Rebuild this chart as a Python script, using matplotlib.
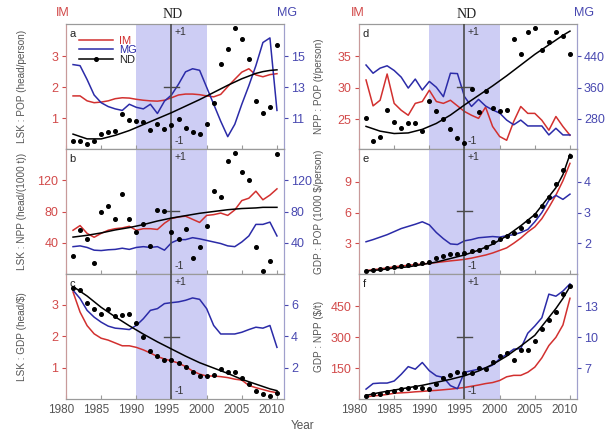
import numpy as np
import matplotlib
matplotlib.use("Agg")
import matplotlib.pyplot as plt
import matplotlib.transforms as mtrans
from matplotlib.lines import Line2D

plt.rcParams['font.family'] = ['Liberation Sans', 'DejaVu Sans']

years = np.arange(1981, 2011)
fit_years = [1981, 1983, 1985, 1987, 1989, 1991, 1993, 1995, 1997, 1999,
             2001, 2003, 2005, 2007, 2008, 2009, 2010]

# ---- a: LSK : POP ----
a_im = [1.72, 1.72, 1.56, 1.50, 1.52, 1.56, 1.63, 1.66, 1.65, 1.61,
        1.58, 1.56, 1.55, 1.58, 1.66, 1.75, 1.78, 1.78, 1.76, 1.72,
        1.69, 1.77, 2.02, 2.26, 2.49, 2.60, 2.40, 2.34, 2.41, 2.44]
a_mg = [14.47, 14.4, 13.5, 12.5, 12.0, 11.75, 11.6, 11.5, 11.9, 11.7,
        11.6, 11.9, 11.3, 12.1, 12.5, 13.2, 14.0, 14.2, 14.1, 13.0,
        11.9, 10.8, 9.8, 10.6, 11.9, 13.1, 14.4, 15.9, 16.2, 11.5]
a_nd = [-0.92, -0.92, -0.97, -0.92, -0.80, -0.77, -0.75, -0.47, -0.56, -0.58,
        -0.60, -0.73, -0.63, -0.71, -0.65, -0.55, -0.70, -0.76, -0.79, -0.63,
        -0.27, 0.38, 0.63, 0.99, 0.80, 0.47, -0.25, -0.44, -0.34, 0.70]
a_fit = [-0.80, -0.88, -0.88, -0.82, -0.74, -0.64, -0.54, -0.44, -0.33, -0.22,
         -0.10, 0.02, 0.13, 0.22, 0.25, 0.27, 0.28]

# ---- b: LSK : NPP ----
b_im = [56, 62, 52, 47, 52, 56, 58, 59, 61, 56,
        58, 58, 57, 65, 71, 73, 74, 70, 66, 75,
        76, 78, 75, 82, 94, 97, 106, 95, 101, 109]
b_mg = [35, 36, 34, 30.5, 30, 31, 31.5, 33, 31.5, 34,
        35, 34, 35, 30.5, 40, 44, 44, 46.5, 45, 43,
        41, 39, 36, 35, 41, 48.7, 63.5, 63.5, 66.4, 48.7]
b_nd = [-0.75, -0.31, -0.46, -0.86, -0.01, 0.10, -0.12, 0.30, -0.13, -0.35,
        -0.21, -0.58, 0.02, 0.00, -0.35, -0.46, -0.30, -0.78, -0.59, -0.25,
        0.35, 0.24, 0.84, 0.98, 0.67, 0.53, -0.59, -1.00, -0.83, 0.96]
b_fit = [-0.43, -0.40, -0.36, -0.31, -0.27, -0.22, -0.16, -0.11, -0.07, -0.03,
         0.00, 0.03, 0.05, 0.06, 0.07, 0.07, 0.07]

# ---- c: LSK : GDP ----
c_im = [3.40, 2.76, 2.33, 2.07, 1.93, 1.87, 1.78, 1.69, 1.69, 1.64,
        1.56, 1.46, 1.35, 1.27, 1.21, 1.14, 1.03, 0.89, 0.79, 0.73,
        0.73, 0.71, 0.68, 0.63, 0.60, 0.43, 0.36, 0.30, 0.24, 0.20]
c_mg = [6.91, 6.38, 5.63, 5.20, 4.88, 4.63, 4.50, 4.46, 4.41, 4.67,
        5.10, 5.63, 5.74, 6.06, 6.12, 6.17, 6.27, 6.42, 6.33, 5.74,
        4.67, 4.13, 4.13, 4.13, 4.24, 4.41, 4.56, 4.50, 4.67, 3.28]
c_nd = [0.81, 0.78, 0.57, 0.46, 0.38, 0.46, 0.35, 0.36, 0.38, 0.22,
        0.00, -0.24, -0.33, -0.40, -0.40, -0.44, -0.52, -0.60, -0.67, -0.67,
        -0.64, -0.55, -0.59, -0.59, -0.69, -0.80, -0.92, -0.97, -1.00, -0.95]
c_fit = [0.84, 0.68, 0.49, 0.33, 0.18, 0.04, -0.09, -0.21, -0.33, -0.44,
         -0.53, -0.62, -0.72, -0.80, -0.84, -0.88, -0.91]

# ---- d: NPP : POP ----
d_im = [31.25, 27.1, 28.0, 32.2, 27.5, 26.4, 25.6, 27.5, 27.8, 29.6,
        27.8, 27.5, 28.0, 27.1, 26.2, 25.6, 25.1, 26.9, 23.8, 22.2,
        21.6, 24.6, 27.0, 25.9, 25.9, 24.8, 23.2, 25.4, 23.8, 22.4]
d_mg = [418, 397, 410, 416, 404, 387, 359, 382, 354, 376,
        361, 337, 397, 396, 337, 312, 330, 313, 303, 295,
        277, 265, 277, 262, 262, 262, 239, 256, 239, 239]
d_nd = [-0.53, -0.92, -0.85, -0.40, -0.60, -0.70, -0.62, -0.62, -0.75, -0.24,
        -0.42, -0.55, -0.72, -0.86, -0.95, -0.05, -0.43, -0.07, -0.36, -0.42,
        -0.40, 0.80, 0.54, 0.91, 0.99, 0.61, 0.74, 0.91, 0.85, 0.54]
d_fit = [-0.67, -0.75, -0.79, -0.78, -0.72, -0.62, -0.48, -0.31, -0.15, 0.01,
         0.18, 0.36, 0.54, 0.70, 0.78, 0.86, 0.93]

# ---- e: GDP : POP ----
e_im = [0.33, 0.42, 0.50, 0.60, 0.70, 0.78, 0.85, 0.92, 0.98, 1.05,
        1.12, 1.20, 1.28, 1.35, 1.43, 1.55, 1.70, 1.85, 2.05, 2.30,
        2.55, 3.00, 3.50, 4.10, 4.60, 5.40, 6.50, 7.70, 9.10, 10.8]
e_mg = [2.05, 2.12, 2.20, 2.28, 2.38, 2.48, 2.55, 2.62, 2.70, 2.60,
        2.35, 2.15, 1.98, 1.96, 2.08, 2.12, 2.18, 2.20, 2.22, 2.20,
        2.25, 2.28, 2.35, 2.45, 2.70, 3.00, 3.40, 3.56, 3.43, 3.60]
e_nd = [-1.00, -0.98, -0.97, -0.95, -0.94, -0.92, -0.90, -0.88, -0.87, -0.85,
        -0.78, -0.74, -0.72, -0.71, -0.69, -0.67, -0.64, -0.59, -0.52, -0.46,
        -0.42, -0.36, -0.28, -0.16, -0.06, 0.10, 0.25, 0.46, 0.70, 0.94]
e_fit = [-1.00, -0.98, -0.95, -0.93, -0.89, -0.85, -0.79, -0.73, -0.65, -0.55,
         -0.41, -0.24, -0.05, 0.25, 0.40, 0.62, 0.96]

# ---- f: GDP : NPP ----
f_im = [10, 15, 18, 22, 28, 30, 32, 35, 37, 40,
        42, 45, 48, 52, 56, 62, 68, 75, 80, 90,
        108, 115, 115, 130, 155, 200, 260, 300, 360, 490]
f_mg = [4.96, 5.50, 5.55, 5.55, 5.75, 6.40, 7.15, 6.90, 7.55, 6.75,
        6.25, 6.10, 5.30, 5.00, 6.60, 6.75, 6.90, 7.00, 7.30, 7.90,
        8.35, 8.85, 8.90, 10.4, 11.1, 11.9, 14.2, 14.0, 14.5, 15.2]
f_nd = [-1.00, -0.97, -0.96, -0.93, -0.91, -0.88, -0.87, -0.85, -0.87, -0.88,
        -0.80, -0.70, -0.64, -0.59, -0.62, -0.62, -0.53, -0.54, -0.42, -0.33,
        -0.28, -0.40, -0.22, -0.23, -0.08, 0.13, 0.28, 0.42, 0.72, 0.85]
f_fit = [-0.99, -0.94, -0.90, -0.86, -0.82, -0.77, -0.72, -0.66, -0.58, -0.47,
         -0.33, -0.16, 0.02, 0.32, 0.47, 0.64, 0.84]

RED = '#d2302f'
BLUE = '#2b2ba8'
RED_T = '#d24a4a'
BLUE_T = '#4848b0'
BAND = '#cdcdf4'
GRAY = '#9a9a9a'

panels = [
    # letter, col, row, im, mg, nd, fit, im_lim, mg_lim, im_ticks, mg_ticks, ylabel
    ('a', 0, 0, a_im, a_mg, a_nd, a_fit, (0, 4.05), (9, 17.1), [1, 2, 3], [11, 13, 15],
     'LSK : POP (head/person)'),
    ('b', 0, 1, b_im, b_mg, b_nd, b_fit, (0, 160), (0, 160), [40, 80, 120], [40, 80, 120],
     'LSK : NPP (head/(1000 t))'),
    ('c', 0, 2, c_im, c_mg, c_nd, c_fit, (0, 3.97), (0, 7.94), [1, 2, 3], [2, 4, 6],
     'LSK : GDP (head/$)'),
    ('d', 1, 0, d_im, d_mg, d_nd, d_fit, (20.2, 40.2), (203, 523), [25, 30, 35], [280, 360, 440],
     'NPP : POP (t/person)'),
    ('e', 1, 1, e_im, e_mg, e_nd, e_fit, (0, 12.2), (1, 5.07), [3, 6, 9], [2, 3, 4],
     'GDP : POP (1000 $/person)'),
    ('f', 1, 2, f_im, f_mg, f_nd, f_fit, (0, 608), (4, 16.16), [150, 300, 450], [7, 10, 13],
     'GDP : NPP ($/t)'),
]

W, H = 608, 436
fig = plt.figure(figsize=(W / 100, H / 100), dpi=100)

col_x = [66, 359]
col_w = 218
row_y = [24, 149, 274, 399]
ylab_x = [22, 319]

for (letter, col, row, im, mg, nd, fit, im_lim, mg_lim, im_ticks, mg_ticks, ylab) in panels:
    top, bot = row_y[row], row_y[row + 1]
    rect = [col_x[col] / W, 1 - bot / H, col_w / W, (bot - top) / H]
    ax = fig.add_axes(rect)
    ax.set_xlim(1980, 2011)
    ax.set_ylim(*im_lim)
    ax.axvspan(1990, 2000, color=BAND, lw=0, zorder=0)
    ax.plot(years, im, color=RED, lw=1.1, zorder=3)
    ax.set_yticks(im_ticks)
    ax.tick_params(axis='y', colors=RED_T, labelsize=9, direction='out', length=3,
                   width=0.8, pad=2.5)
    ax.tick_params(axis='x', direction='in', length=3, color=GRAY, labelsize=8.5,
                   labelcolor='#555555', top=False)
    ax.set_xticks([1980, 1985, 1990, 1995, 2000, 2005, 2010])
    if row < 2:
        ax.set_xticklabels([])
    else:
        off = mtrans.ScaledTranslation(-0.05, 0, fig.dpi_scale_trans)
        for lab in ax.get_xticklabels():
            lab.set_transform(lab.get_transform() + off)
    for s in ['top', 'bottom']:
        ax.spines[s].set_color(GRAY)
        ax.spines[s].set_linewidth(0.8)
    ax.spines['left'].set_color('#c89a9a')
    ax.spines['right'].set_color('#a0a0cc')

    ax2 = ax.twinx()
    ax2.set_ylim(*mg_lim)
    ax2.plot(years, mg, color=BLUE, lw=1.1, zorder=3)
    ax2.set_yticks(mg_ticks)
    ax2.tick_params(axis='y', colors=BLUE_T, labelsize=9, direction='out', length=3,
                    width=0.8, pad=2)
    ax2.spines['right'].set_color('#a0a0cc')
    ax2.spines['left'].set_color('#c89a9a')
    ax2.spines['top'].set_color(GRAY)
    ax2.spines['bottom'].set_color(GRAY)

    ax3 = ax.twinx()
    ax3.set_ylim(-1.05, 1.05)
    ax3.set_yticks([])
    for s in ax3.spines.values():
        s.set_visible(False)
    ax3.axvline(1995, color='#4a4a4a', lw=1.2, zorder=2)
    ax3.plot([1994, 1996], [0, 0], color='#4a4a4a', lw=1.0)
    ax3.text(1995.5, 0.92, '+1', fontsize=7.5, color='#333333', ha='left', va='center')
    ax3.text(1995.5, -0.92, '-1', fontsize=7.5, color='#333333', ha='left', va='center')
    ax3.plot(fit_years, fit, color='black', lw=1.1, zorder=4)
    ax3.plot(years, nd, ls='none', marker='o', ms=2.6, color='black', zorder=5)
    ax3.text(1980.5, 0.97, letter, fontsize=8, color='#222222', ha='left', va='top')

    if letter == 'a':
        handles = [Line2D([], [], color=RED, lw=1.1),
                   Line2D([], [], color=BLUE, lw=1.1),
                   Line2D([], [], color='black', lw=1.1, marker='o', ms=2.6)]
        leg = ax3.legend(handles, ['IM', 'MG', 'ND'], loc='upper left',
                         bbox_to_anchor=(0.03, 0.96), frameon=False, fontsize=8,
                         handlelength=3.0, handletextpad=0.6, labelspacing=-0.05,
                         borderaxespad=0.2)
        for t, c in zip(leg.get_texts(), [RED, BLUE, '#222222']):
            t.set_color(c)

    fig.text(ylab_x[col] / W, 1 - (top + bot) / 2 / H, ylab, rotation=90,
             fontsize=7.2, color='#555555', ha='center', va='center')

# column headers
for ix, nx, mx in [(63, 173, 287), (358, 467, 584)]:
    fig.text(ix / W, 1 - 13 / H, 'IM', color=RED_T, fontsize=9, ha='center', va='center')
    fig.text(nx / W, 1 - 14 / H, 'ND', color='#222222', fontsize=10,
             family='Liberation Serif', ha='center', va='center')
    fig.text(mx / W, 1 - 13 / H, 'MG', color=BLUE_T, fontsize=9, ha='center', va='center')

fig.text(303 / W, 1 - 426 / H, 'Year', fontsize=8.5, color='#555555', ha='center', va='center')

fig.savefig('out.png', dpi=100)
